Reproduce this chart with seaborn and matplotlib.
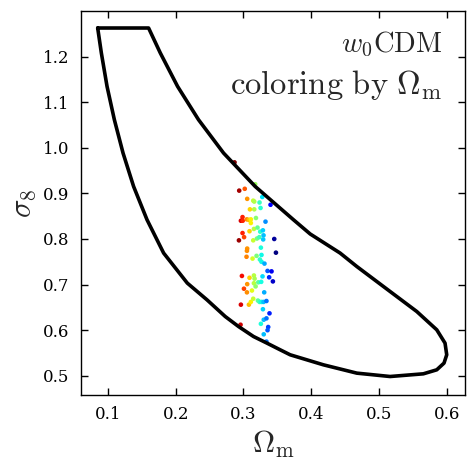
import numpy as np
import pandas as pd
import matplotlib
matplotlib.use("Agg")
import matplotlib.pyplot as plt
import seaborn as sns

# ---- data ----
omega_pts = [0.2869, 0.3174, 0.2938, 0.3020, 0.3056, 0.3145, 0.3160, 0.3238, 0.3278, 0.3400,
             0.3096, 0.3160, 0.3253, 0.2987, 0.2963, 0.2990, 0.3050, 0.3080, 0.3110, 0.3185,
             0.3110, 0.3326, 0.3090, 0.3155, 0.3208, 0.3248, 0.3288, 0.2987, 0.3010, 0.2934,
             0.3145, 0.3200, 0.3235, 0.3297, 0.3292, 0.3455, 0.3056, 0.3052, 0.3046, 0.3135,
             0.3194, 0.3258, 0.3267, 0.3243, 0.3267, 0.3311, 0.3480, 0.3356, 0.3415, 0.3380,
             0.3435, 0.2978, 0.3090, 0.3155, 0.3165, 0.3155, 0.3180, 0.3220, 0.3263, 0.3282,
             0.3056, 0.3008, 0.3052, 0.3126, 0.3307, 0.2963, 0.3081, 0.3110, 0.3145, 0.3214,
             0.3238, 0.3267, 0.3297, 0.3340, 0.3288, 0.3385, 0.3300, 0.3340, 0.3258, 0.3366,
             0.3356, 0.3300, 0.3340, 0.2958]
sigma8_pts = [0.968, 0.920, 0.906, 0.910, 0.888, 0.884, 0.882, 0.880, 0.892, 0.875,
              0.865, 0.865, 0.868, 0.848, 0.840, 0.840, 0.843, 0.842, 0.843, 0.846,
              0.835, 0.838, 0.817, 0.822, 0.825, 0.816, 0.819, 0.813, 0.804, 0.797,
              0.797, 0.801, 0.804, 0.808, 0.799, 0.800, 0.779, 0.774, 0.761, 0.757,
              0.763, 0.781, 0.765, 0.755, 0.750, 0.746, 0.770, 0.730, 0.729, 0.716,
              0.707, 0.719, 0.715, 0.720, 0.713, 0.703, 0.696, 0.705, 0.706, 0.718,
              0.701, 0.691, 0.683, 0.687, 0.683, 0.656, 0.656, 0.662, 0.669, 0.665,
              0.662, 0.662, 0.662, 0.664, 0.646, 0.637, 0.623, 0.626, 0.614, 0.607,
              0.600, 0.591, 0.575, 0.612]

omega_contour = [0.0850, 0.0904, 0.0988, 0.1096, 0.1224, 0.1380, 0.1578, 0.1823, 0.2172, 0.2462,
                 0.2732, 0.2928, 0.3149, 0.3347, 0.3543, 0.3690, 0.4181, 0.4673, 0.5164, 0.5655,
                 0.5853, 0.5960, 0.6000, 0.5975, 0.5853, 0.5558, 0.5164, 0.4673, 0.4427, 0.3985,
                 0.3739, 0.3174, 0.2707, 0.2338, 0.2029, 0.1774, 0.1601, 0.0850]
sigma8_contour = [1.2625, 1.2077, 1.1344, 1.0614, 0.9884, 0.9151, 0.8421, 0.7691, 0.7033, 0.6667,
                  0.6300, 0.6081, 0.5862, 0.5717, 0.5570, 0.5461, 0.5241, 0.5059, 0.4985, 0.5044,
                  0.5132, 0.5279, 0.5461, 0.5717, 0.6009, 0.6410, 0.6849, 0.7397, 0.7691, 0.8110,
                  0.8421, 0.9151, 0.9884, 1.0614, 1.1344, 1.2077, 1.2625, 1.2625]

x_ticks = [0.1, 0.2, 0.3, 0.4, 0.5, 0.6]
y_ticks = [0.5, 0.6, 0.7, 0.8, 0.9, 1.0, 1.1, 1.2]

# ---- style ----
sns.set_style("ticks")
plt.rcParams.update({
    "font.family": ["DejaVu Serif"],
    "mathtext.fontset": "cm",
    "xtick.direction": "in",
    "ytick.direction": "in",
    "xtick.top": True,
    "ytick.right": True,
    "xtick.major.size": 5,
    "ytick.major.size": 5,
    "xtick.color": "black",
    "ytick.color": "black",
    "axes.edgecolor": "black",
    "axes.linewidth": 1.0,
    "lines.solid_joinstyle": "round",
})

fig = plt.figure(figsize=(4.75, 4.74), dpi=100)
ax = fig.add_axes([0.170, 0.1667, 0.809, 0.8103])

pts = pd.DataFrame({"Om": omega_pts, "s8": sigma8_pts})
sns.scatterplot(data=pts, x="Om", y="s8", hue="Om", palette="jet_r",
                hue_norm=(0.292, 0.347), s=11, linewidth=0, legend=False,
                ax=ax, zorder=2)

cont = pd.DataFrame({"Om": omega_contour, "s8": sigma8_contour})
sns.lineplot(data=cont, x="Om", y="s8", sort=False, estimator=None,
             color="black", lw=2.6, ax=ax, zorder=3)

ax.set_xlim(0.06, 0.627)
ax.set_ylim(0.458, 1.30)
ax.set_xticks(x_ticks)
ax.set_yticks(y_ticks)
ax.set_xticklabels([f"{t:.1f}" for t in x_ticks], fontsize=12)
ax.set_yticklabels([f"{t:.1f}" for t in y_ticks], fontsize=12)
ax.tick_params(which="major", width=1.0, pad=8)
ax.minorticks_off()

ax.set_xlabel(r"$\Omega_\mathrm{m}$", fontsize=22, labelpad=4)
ax.set_ylabel(r"$\sigma_8$", fontsize=22, labelpad=4)

ax.text(0.942, 0.912, r"$w_0\mathrm{CDM}$", transform=ax.transAxes,
        ha="right", va="center", fontsize=20.5)
ax.text(0.942, 0.808, r"$\mathrm{coloring\ by}\ \Omega_\mathrm{m}$", transform=ax.transAxes,
        ha="right", va="center", fontsize=23.5)

fig.savefig("out.png", dpi=100)
